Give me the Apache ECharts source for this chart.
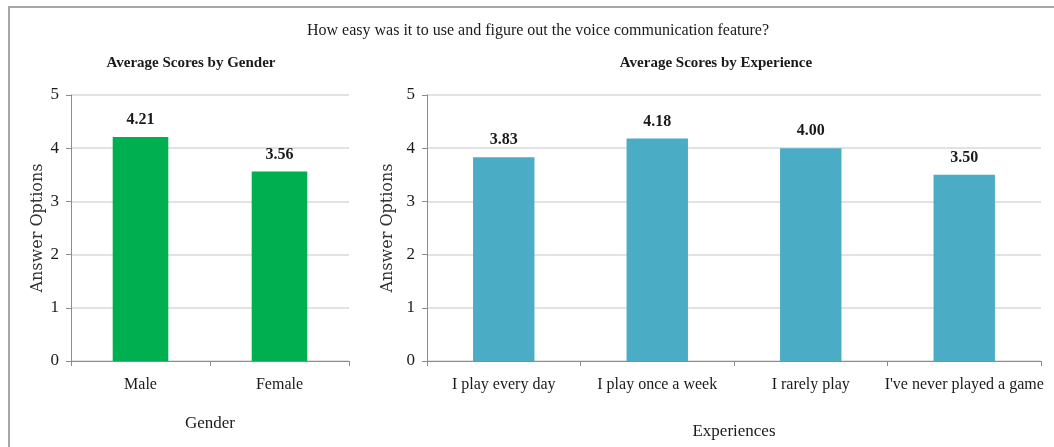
<!DOCTYPE html>
<html>
<head>
<meta charset="utf-8">
<script src="https://cdn.jsdelivr.net/npm/echarts@6/dist/echarts.min.js"></script>
<style>
html, body { margin: 0; padding: 0; background: #fff; }
#main { width: 1054px; height: 447px; }
</style>
</head>
<body>
<div id="main"></div>
<script>
// data
var genderCats = ['Male', 'Female'];
var genderScores = [4.21, 3.56];
var expCats = ['I play every day', 'I play once a week', 'I rarely play', "I've never played a game"];
var expScores = [3.83, 4.18, 4.00, 3.50];
var yTicks = { min: 0, max: 5, interval: 1 };

var serif = 'Liberation Serif';
var txt = '#1a1a1a';

function yAxisCfg(gridIndex) {
  return {
    type: 'value',
    gridIndex: gridIndex,
    min: yTicks.min,
    max: yTicks.max,
    interval: yTicks.interval,
    name: 'Answer Options',
    nameLocation: 'middle',
    nameGap: 25,
    nameTextStyle: { fontFamily: 'DejaVu Serif', fontSize: 16, color: '#333' },
    axisLine: { show: true, lineStyle: { color: '#8c8c8c', width: 1 } },
    axisTick: { show: true, length: 5, lineStyle: { color: '#8c8c8c' } },
    axisLabel: { fontFamily: serif, fontSize: 17, color: txt, margin: 12 },
    splitLine: { lineStyle: { color: '#d9d9d9', width: 1.5 } }
  };
}

function xAxisCfg(gridIndex, cats, name, gap) {
  return {
    type: 'category',
    gridIndex: gridIndex,
    data: cats,
    name: name,
    nameLocation: 'middle',
    nameGap: gap,
    nameTextStyle: { fontFamily: serif, fontSize: 17, color: txt },
    axisLine: { lineStyle: { color: '#8c8c8c', width: 1 } },
    axisTick: { show: true, length: 5, lineStyle: { color: '#8c8c8c' } },
    axisLabel: { fontFamily: serif, fontSize: 16, color: txt, margin: 16, interval: 0 }
  };
}

function barSeries(idx, data, color) {
  return {
    type: 'bar',
    xAxisIndex: idx,
    yAxisIndex: idx,
    data: data,
    barWidth: '40%',
    itemStyle: { color: color },
    label: {
      show: true,
      position: 'top',
      distance: 9,
      fontFamily: serif,
      fontWeight: 'bold',
      fontSize: 16,
      color: txt,
      formatter: function (p) { return p.value.toFixed(2); }
    }
  };
}

var option = {
  backgroundColor: '#fff',
  animation: false,
  title: [
    {
      text: 'How easy was it to use and figure out the voice communication feature?',
      left: 533, top: 18, textAlign: 'center',
      textStyle: { fontFamily: serif, fontSize: 16, fontWeight: 'normal', color: txt }
    },
    {
      text: 'Average Scores by Gender',
      left: 186, top: 51, textAlign: 'center',
      textStyle: { fontFamily: serif, fontSize: 15, fontWeight: 'bold', color: txt }
    },
    {
      text: 'Average Scores by Experience',
      left: 711, top: 51, textAlign: 'center',
      textStyle: { fontFamily: serif, fontSize: 15, fontWeight: 'bold', color: txt }
    }
  ],
  graphic: [
    {
      type: 'polyline',
      shape: { points: [[9, 447], [9, 7], [1054, 7]] },
      style: { stroke: '#a6a6a6', lineWidth: 2, fill: null }
    }
  ],
  grid: [
    { left: 71, right: 705, top: 95, bottom: 86 },
    { left: 427, right: 13, top: 95, bottom: 86 }
  ],
  xAxis: [
    xAxisCfg(0, genderCats, 'Gender', 54),
    xAxisCfg(1, expCats, 'Experiences', 62)
  ],
  yAxis: [yAxisCfg(0), yAxisCfg(1)],
  series: [
    barSeries(0, genderScores, '#00b050'),
    barSeries(1, expScores, '#4bacc6')
  ]
};

echarts.init(document.getElementById('main')).setOption(option);
</script>
</body>
</html>
